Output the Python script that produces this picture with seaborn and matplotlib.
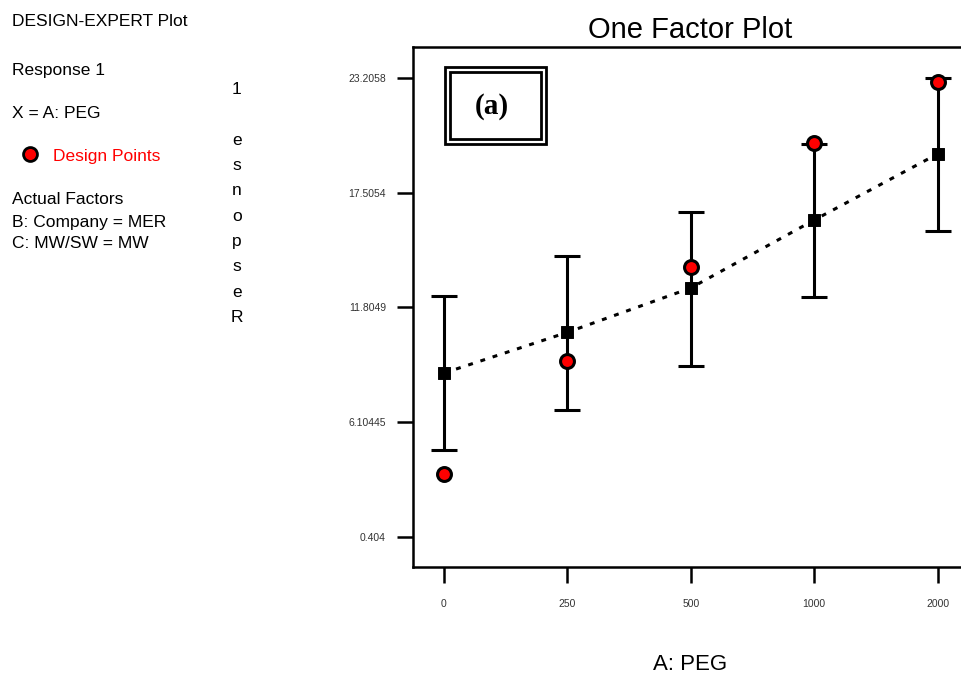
import pandas as pd
import numpy as np
import matplotlib
matplotlib.use("Agg")
import matplotlib.pyplot as plt
import seaborn as sns
from matplotlib.patches import Rectangle
from matplotlib.lines import Line2D

# data
peg_levels = ["0", "250", "500", "1000", "2000"]
predicted = [8.55, 10.57, 12.77, 16.14, 19.42]
ci_low = [4.72, 6.70, 8.92, 12.31, 15.58]
ci_high = [12.39, 14.34, 16.55, 19.90, 23.20]
design_points = [3.54, 9.16, 13.83, 19.98, 22.97]
y_ticks = [0.404, 6.10445, 11.8049, 17.5054, 23.2058]
y_tick_labels = ["0.404", "6.10445", "11.8049", "17.5054", "23.2058"]

df = pd.DataFrame({"peg": peg_levels, "pred": predicted, "lo": ci_low,
                   "hi": ci_high, "actual": design_points})

sns.set_style("white")
plt.rcParams["font.family"] = ["Liberation Sans", "DejaVu Sans"]
plt.rcParams["text.color"] = "black"

W, H = 962, 675
fig = plt.figure(figsize=(W / 100, H / 100), dpi=100)
ax = fig.add_axes([413 / W, 1 - 566.7 / H, 1 - 413 / W, (566.7 - 47.3) / H])

# prediction line (dotted) + intervals
sns.lineplot(data=df, x="peg", y="pred", ax=ax, color="black", lw=2.2,
             linestyle=(0, (1.6, 2.6)), sort=False, zorder=2)
yerr = [df["pred"] - df["lo"], df["hi"] - df["pred"]]
ax.errorbar(df["peg"], df["pred"], yerr=yerr, fmt="none", ecolor="black",
            elinewidth=2.2, capsize=9.5, capthick=2.2, zorder=3)
sns.scatterplot(data=df, x="peg", y="pred", ax=ax, marker="s", s=70,
                color="black", edgecolor="black", zorder=4)
sns.scatterplot(data=df, x="peg", y="actual", ax=ax, marker="o", s=100,
                color="red", edgecolor="black", linewidth=2.2, zorder=5)

ax.set_xlim(-0.25, 4.198)
ax.set_ylim(-1.054, 24.71)
ax.set_yticks(y_ticks)
ax.set_yticklabels(y_tick_labels)
ax.set_xlabel("")
ax.set_ylabel("")
ax.tick_params(axis="both", direction="out", length=11.5, width=1.8,
               color="black", labelsize=7.5, labelcolor="#333333", pad=8,
               left=True, bottom=True)
ax.tick_params(axis="x", pad=12)
for side in ["left", "bottom", "top"]:
    ax.spines[side].set_linewidth(1.8)
    ax.spines[side].set_color("black")
ax.spines["right"].set_visible(False)

# (a) double box
ax_box = fig.add_axes([0, 0, 1, 1], facecolor="none")
ax_box.set_xlim(0, W)
ax_box.set_ylim(H, 0)
ax_box.axis("off")
ax_box.add_patch(Rectangle((445, 67), 101, 77, fill=False, lw=2, ec="black"))
ax_box.add_patch(Rectangle((450.5, 72), 90.5, 67, fill=False, lw=2, ec="black"))
ax_box.text(492, 107, "(a)", family=["Liberation Serif"], fontweight="bold",
            fontsize=21, ha="center", va="center")

# title and axis label
fig.text(690 / W, 1 - 30 / H, "One Factor Plot", fontsize=21, ha="center", va="center")
fig.text(690 / W, 1 - 664 / H, "A: PEG", fontsize=16, ha="center", va="center")

# left info panel
left_txt = [("DESIGN-EXPERT Plot", 22), ("Response 1", 70), ("X = A: PEG", 113),
            ("Actual Factors", 200), ("B: Company = MER", 222), ("C: MW/SW = MW", 243)]
for s, y in left_txt:
    fig.text(12 / W, 1 - y / H, s, fontsize=12.5, ha="left", va="center")
ax_box.add_line(Line2D([30], [154], marker="o", ms=10, mfc="red", mec="black", mew=2))
fig.text(53 / W, 1 - 157 / H, "Design Points", fontsize=12.5, color="red",
         ha="left", va="center")

# stacked y label
fig.text(237 / W, 1 - 82 / H, "\n".join(reversed("Response 1")), fontsize=12.5,
         ha="center", va="top", linespacing=1.86, multialignment="center")

fig.savefig("out.png", dpi=100)
